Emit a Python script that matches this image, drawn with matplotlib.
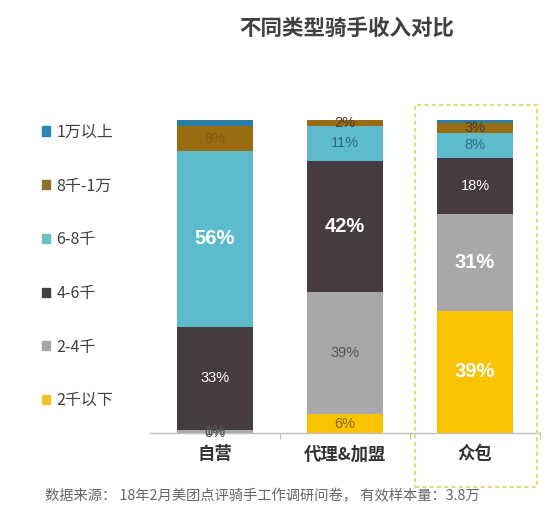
import matplotlib
matplotlib.use("Agg")
import matplotlib.pyplot as plt
from matplotlib.patches import Rectangle
import numpy as np

plt.rcParams['font.family'] = ['Liberation Sans', 'Noto Sans CJK SC', 'DejaVu Sans']

categories = ["自营", "代理&加盟", "众包"]
series_names = ["2千以下", "2-4千", "4-6千", "6-8千", "8千-1万", "1万以上"]
values = {
    "2千以下": [0, 6, 39],
    "2-4千":   [1, 39, 31],
    "4-6千":   [33, 42, 18],
    "6-8千":   [56, 11, 8],
    "8千-1万": [8, 2, 3],
    "1万以上": [2, 0, 1],
}
colors = {
    "2千以下": "#F9C300",
    "2-4千":   "#A9A7A9",
    "4-6千":   "#463B40",
    "6-8千":   "#5EBBCB",
    "8千-1万": "#9A6C10",
    "1万以上": "#2B7FA6",
}
legend_colors = {
    "2千以下": "#F2C12E",
    "2-4千":   "#A6A6A6",
    "4-6千":   "#404040",
    "6-8千":   "#6CC0C0",
    "8千-1万": "#8B7424",
    "1万以上": "#2B86B4",
}
# label texts shown on segments (None = no label)
labels = {
    "2千以下": ["0%", "6%", "39%"],
    "2-4千":   ["1%", "39%", "31%"],
    "4-6千":   ["33%", "42%", "18%"],
    "6-8千":   ["56%", "11%", "8%"],
    "8千-1万": ["8%", "2%", "3%"],
    "1万以上": [None, None, None],
}
big = {("6-8千", 0), ("4-6千", 1), ("2-4千", 2), ("2千以下", 2)}
label_colors = {
    "2千以下": ["#555555", "#8B6914", "white"],
    "2-4千":   ["#555555", "#555555", "white"],
    "4-6千":   ["white", "white", "white"],
    "6-8千":   ["white", "#2D6E7E", "#2D6E7E"],
    "8千-1万": ["#7B5A14", "#4A3C30", "#4A3C30"],
    "1万以上": ["white", "white", "white"],
}

W, H = 554, 515
fig = plt.figure(figsize=(W / 100, H / 100), dpi=100)
ax = fig.add_axes([150 / W, (H - 433) / H, 390 / W, 313 / H])

x = np.arange(len(categories))
bottom = np.zeros(len(categories))
handles = {}
for name in series_names:
    v = np.array(values[name], dtype=float)
    bars = ax.bar(x, v, bottom=bottom, width=0.59, color=colors[name], linewidth=0, zorder=2)
    for i, b in enumerate(bars):
        t = labels[name][i]
        if t is None:
            continue
        yc = bottom[i] + v[i] / 2
        if (name, i) in big:
            ax.text(x[i], yc, t, ha='center', va='center', fontsize=14.5,
                    fontweight='bold', color='white', zorder=3)
        else:
            ax.text(x[i], yc, t, ha='center', va='center', fontsize=10.5,
                    color=label_colors[name][i], zorder=3)
    bottom += v
    handles[name] = Rectangle((0, 0), 1, 1, color=legend_colors[name])

ax.set_xlim(-0.5, 2.5)
ax.set_ylim(0, 100)
for s in ['top', 'right', 'left']:
    ax.spines[s].set_visible(False)
ax.spines['bottom'].set_color('#BFBFBF')
ax.spines['bottom'].set_linewidth(1.0)
ax.set_yticks([])
ax.set_xticks([0.5, 1.5, 2.5], minor=False)
ax.set_xticklabels([])
ax.tick_params(axis='x', which='major', length=4, color='#BFBFBF', direction='out')
for i, c in enumerate(categories):
    ax.text(x[i], -6.8, c, ha='center', va='center', fontsize=12.5,
            fontweight='bold', color='#333333', family=['Noto Sans CJK SC', 'DejaVu Sans'])

# legend
order = series_names[::-1]
leg = fig.legend([handles[n] for n in order], order, loc='center left',
                 bbox_to_anchor=(42 / W, 1 - 266.5 / H), frameon=False,
                 handlelength=0.5, handleheight=0.5, handletextpad=0.4,
                 labelspacing=2.3, borderpad=0, borderaxespad=0,
                 prop={'family': ['Noto Sans CJK SC', 'DejaVu Sans'], 'size': 11.5})
for t in leg.get_texts():
    t.set_color('#404040')

# highlight dashed box
fig.patches.append(Rectangle((415 / W, 1 - 487 / H), (537 - 415) / W, (487 - 105) / H,
                             transform=fig.transFigure, fill=False,
                             edgecolor='#E3DC7A', linestyle=(0, (2, 1.5)), linewidth=1.5))

fig.text(347 / W, 1 - 28 / H, "不同类型骑手收入对比", ha='center', va='center',
         fontsize=15.5, fontweight='bold', color='#404040',
         family=['Noto Sans CJK SC', 'DejaVu Sans'])
fig.text(45 / W, 1 - 496 / H, "数据来源： 18年2月美团点评骑手工作调研问卷， 有效样本量：3.8万",
         ha='left', va='center', fontsize=10.3, color='#666666',
         family=['Noto Sans CJK SC', 'DejaVu Sans'])

fig.savefig("out.png", dpi=100, facecolor='white')
